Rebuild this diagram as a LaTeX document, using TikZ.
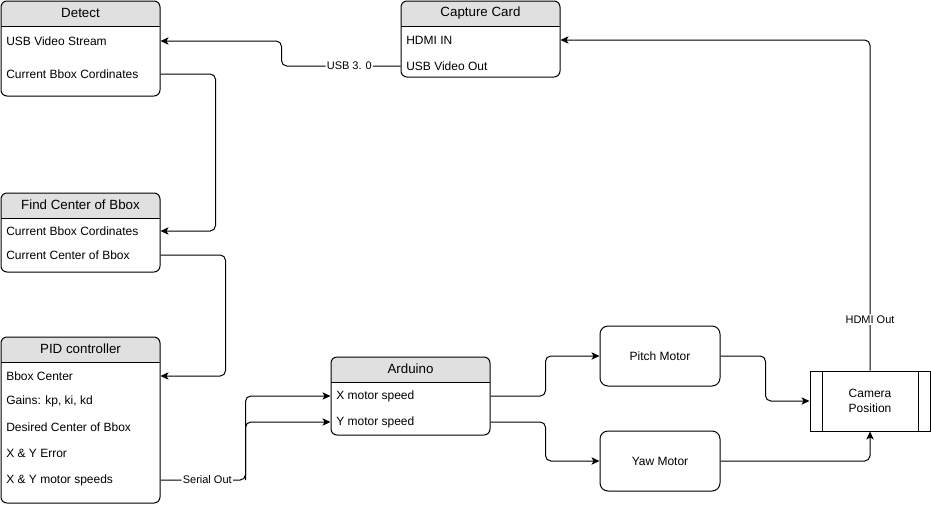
\documentclass[tikz,border=0pt]{standalone}
\usepackage{fontspec}
\setmainfont{Liberation Sans}
\usetikzlibrary{arrows.meta,fit}
\definecolor{headgray}{HTML}{E0E0E0}
\tikzset{
  lane/.style={draw, line width=0.75pt, rounded corners=4.5pt, inner sep=0pt,
    path picture={
      \fill[headgray, sharp corners] (path picture bounding box.north west) rectangle ([yshift=-18.75pt]path picture bounding box.north east);
      \draw[line width=0.75pt, sharp corners] ([yshift=-18.75pt]path picture bounding box.north west) -- ([yshift=-18.75pt]path picture bounding box.north east);}},
  head/.style={inner sep=0pt, font=\fontsize{10}{12}\selectfont},
  row/.style={anchor=west, inner sep=0pt},
  motor/.style={draw, line width=0.75pt, rounded corners=6pt, minimum width=90pt, minimum height=45pt},
  procbox/.style={draw, line width=0.75pt, minimum width=90pt, minimum height=45pt, align=center,
    path picture={
      \draw[line width=0.75pt] ([xshift=9pt]path picture bounding box.north west) -- ([xshift=9pt]path picture bounding box.south west);
      \draw[line width=0.75pt] ([xshift=-9pt]path picture bounding box.north east) -- ([xshift=-9pt]path picture bounding box.south east);}},
  wire/.style={line width=0.75pt, rounded corners=4pt, -{Stealth[length=6pt,width=5.5pt,inset=1.5pt]}},
  lbl/.style={fill=white, inner sep=1pt, font=\fontsize{8.25}{10}\selectfont},
}
\begin{document}
\begin{tikzpicture}[x=0.75pt, y=-0.75pt, font=\fontsize{9}{11}\selectfont]
  \useasboundingbox (0,0) rectangle (931,504);

  % swimlanes
  \node[lane, fit={(1,1) (160,96)}] (detect) {};
  \node[head] at ([yshift=-9.4pt]detect.north) {Detect};
  \node[row] (det-usb) at (6,41) {USB Video Stream};
  \node[row] (det-bbox) at (6,74) {Current Bbox Cordinates};

  \node[lane, fit={(401,1) (560,77)}] (capture) {};
  \node[head] at ([yshift=-9.4pt]capture.north) {Capture Card};
  \node[row] (cap-hdmi) at (406,40) {HDMI IN};
  \node[row] (cap-out) at (406,66) {USB Video Out};

  \node[lane, fit={(1,193) (160,272)}] (find) {};
  \node[head] at ([yshift=-9.4pt]find.north) {Find Center of Bbox};
  \node[row] (find-bbox) at (6,231) {Current Bbox Cordinates};
  \node[row] (find-center) at (6,255) {Current Center of Bbox};

  \node[lane, fit={(1,337) (160,503)}] (pid) {};
  \node[head] at ([yshift=-9.4pt]pid.north) {PID controller};
  \node[row] (pid-center) at (6,376) {Bbox Center};
  \node[row] (pid-gains) at (6,401) {Gains: kp, ki, kd};
  \node[row] (pid-desired) at (6,427) {Desired Center of Bbox};
  \node[row] (pid-error) at (6,453) {X \& Y Error};
  \node[row] (pid-speeds) at (6,480) {X \& Y motor speeds};

  \node[lane, fit={(331,357) (490,435)}] (ard) {};
  \node[head] at ([yshift=-9.4pt]ard.north) {Arduino};
  \node[row] (ard-x) at (336,396) {X motor speed};
  \node[row] (ard-y) at (336,422) {Y motor speed};

  % motors and camera
  \node[motor] (pitch) at (660,356) {Pitch Motor};
  \node[motor] (yaw) at (660,461) {Yaw Motor};
  \node[procbox] (camera) at (870,401) {Camera\\Position};

  % connectors
  \draw[wire] (capture.west |- cap-out) -- node[lbl, pos=0.43] {USB 3. 0} ++(-119,0) |- (detect.east |- det-usb);
  \draw[wire] (detect.east |- det-bbox) -- ++(55,0) |- (find.east |- find-bbox);
  \draw[wire] (find.east |- find-center) -- ++(65,0) |- (pid.east |- pid-center);
  \draw[wire] (pid.east |- pid-speeds) -- node[lbl, pos=0.55] {Serial Out} ++(85,0) |- (ard.west |- ard-x);
  \draw[wire] (pid.east |- pid-speeds) ++(85,0) |- (ard.west |- ard-y);
  \draw[wire] (ard.east |- ard-x) -- ++(55,0) |- (pitch.west);
  \draw[wire] (ard.east |- ard-y) -- ++(55,0) |- (yaw.west);
  \draw[wire] (pitch.east) -- ++(45,0) |- (camera.west);
  \draw[wire] (yaw.east) -| (camera.south);
  \draw[wire] (camera.north) -- node[lbl, pos=0.154] {HDMI Out} (camera.north |- cap-hdmi) -- (capture.east |- cap-hdmi);
\end{tikzpicture}
\end{document}
